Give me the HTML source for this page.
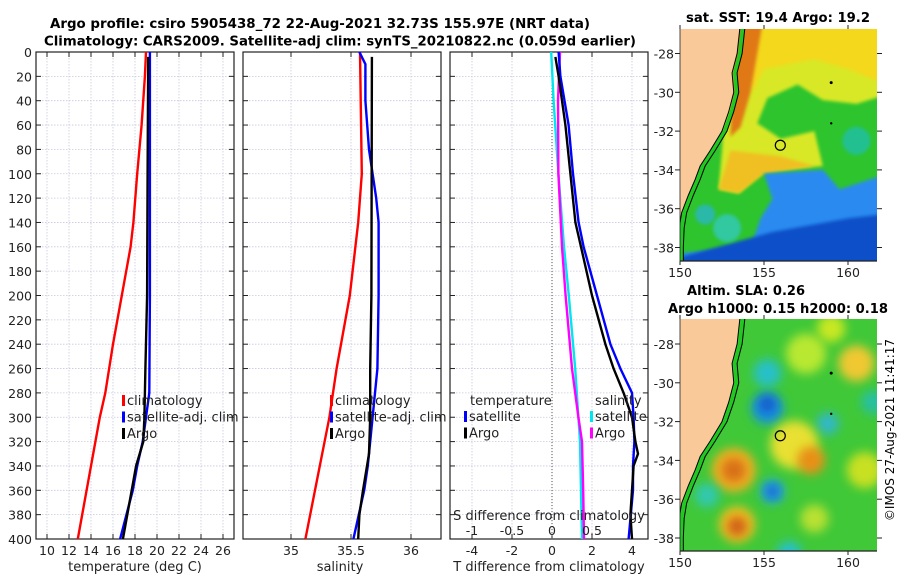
<!DOCTYPE html>
<html><head><meta charset="utf-8"><style>
body{margin:0;background:#fff;}
svg{display:block;font-family:"DejaVu Sans","Liberation Sans",sans-serif;}
</style></head><body>
<svg id="c" width="900" height="580" viewBox="0 0 900 580">
<defs>
<filter id="blur6" x="-50%" y="-50%" width="200%" height="200%"><feGaussianBlur stdDeviation="5"/></filter>
<filter id="blur3"><feGaussianBlur stdDeviation="1.5"/></filter>
<clipPath id="clipTop"><rect x="680" y="29" width="197" height="232"/></clipPath>
<clipPath id="clipBot"><rect x="680" y="319" width="197" height="232"/></clipPath>
</defs>
<text x="320" y="28" text-anchor="middle" font-size="13" font-weight="bold" textLength="540" lengthAdjust="spacingAndGlyphs">Argo profile: csiro 5905438_72 22-Aug-2021 32.73S 155.97E (NRT data)</text>
<text x="340" y="45.5" text-anchor="middle" font-size="13" font-weight="bold" textLength="592" lengthAdjust="spacingAndGlyphs">Climatology: CARS2009. Satellite-adj clim: synTS_20210822.nc (0.059d earlier)</text>
<text x="778" y="22" text-anchor="middle" font-size="13" font-weight="bold" textLength="184" lengthAdjust="spacingAndGlyphs">sat. SST: 19.4 Argo: 19.2</text>
<text x="746" y="295" text-anchor="middle" font-size="13" font-weight="bold" textLength="118" lengthAdjust="spacingAndGlyphs">Altim. SLA: 0.26</text>
<text x="778" y="313" text-anchor="middle" font-size="13" font-weight="bold" textLength="220" lengthAdjust="spacingAndGlyphs">Argo h1000: 0.15 h2000: 0.18</text>
<text transform="translate(894,430) rotate(-90)" text-anchor="middle" font-size="12">©IMOS 27-Aug-2021 11:41:17</text>
<g id="plots"></g>
<g id="maps"></g>
</svg>
<script>
// ---- data ----
const depthTicks=[0,20,40,60,80,100,120,140,160,180,200,220,240,260,280,300,320,340,360,380,400];
const tempTicks=[10,12,14,16,18,20,22,24,26];
const salTicks=[35,35.5,36];
const tdiffTicks=[-4,-2,0,2,4];
const sdiffTicks=[-1,-0.5,0,0.5];
const climTDepth=[0,20,60,100,140,160,200,240,280,300,320,360,400];
const climTVal=[19.0,18.9,18.6,18.2,17.85,17.6,16.8,16.0,15.3,14.8,14.4,13.6,12.8];
const satTDepth=[0,100,200,280,300,320,340,360,400];
const satTVal=[19.35,19.35,19.35,19.3,19.0,18.7,18.2,17.8,16.65];
const argoTDepth=[4,100,200,260,300,320,340,360,380,400];
const argoTVal=[19.2,19.15,19.1,18.95,18.85,18.75,18.1,17.7,17.3,16.9];
const climSDepth=[0,100,140,200,260,300,340,400];
const climSVal=[35.575,35.59,35.56,35.49,35.38,35.32,35.24,35.12];
const satSDepth=[0,10,40,80,100,120,140,200,260,300,340,360,400];
const satSVal=[35.57,35.62,35.62,35.65,35.68,35.71,35.73,35.73,35.72,35.68,35.64,35.61,35.52];
const argoSDepth=[4,200,260,300,330,360,380,400];
const argoSVal=[35.674,35.67,35.66,35.66,35.65,35.6,35.57,35.56];
const dTSatDepth=[0,20,60,100,140,160,200,240,260,280,300,320,340,360,400];
const dTSatVal=[0.33,0.42,0.83,1.05,1.33,1.58,2.25,2.92,3.42,4.0,4.08,4.12,4.05,4.05,3.83];
const dTArgoDepth=[4,20,60,100,140,160,200,240,260,280,300,320,330,340,360,380,400];
const dTArgoVal=[0.17,0.33,0.67,0.92,1.17,1.45,2.0,2.67,3.08,3.58,4.0,4.17,4.3,4.08,4.0,3.92,4.0];
const dSSatDepth=[0,40,100,160,200,260,300,320,400];
const dSSatVal=[-0.01,0.02,0.08,0.15,0.21,0.29,0.33,0.35,0.375];
const dSArgoDepth=[0,40,100,160,200,260,300,320,360,400];
const dSArgoVal=[0.1,0.075,0.08,0.125,0.17,0.25,0.33,0.375,0.39,0.4];
const latTicks=[-28,-30,-32,-34,-36,-38];
const lonTicks=[150,155,160];

const NS="http://www.w3.org/2000/svg";
const root=document.getElementById('plots');
function el(tag,attrs,parent,text){const e=document.createElementNS(NS,tag);for(const k in attrs)e.setAttribute(k,attrs[k]);if(text!==undefined)e.textContent=text;(parent||root).appendChild(e);return e;}
const Y0=52,Y1=539;
const yD=d=>Y0+d*(Y1-Y0)/400;

function panel(name,x0,x1,xmin,xmax,gridTicks,showDepthLabels){
  const xs=v=>x0+(v-xmin)*(x1-x0)/(xmax-xmin);
  const g=el('g',{});
  
  
  depthTicks.forEach(d=>{
    const l=el('line',{x1:x0,x2:x1,y1:yD(d),y2:yD(d),stroke:'#c8c8e0','stroke-width':0.8,'stroke-dasharray':'1.5,1.5'},g);
    
    
    el('line',{x1:x0,x2:x0+5,y1:yD(d),y2:yD(d),stroke:'#222'},g);
    el('line',{x1:x1-5,x2:x1,y1:yD(d),y2:yD(d),stroke:'#222'},g);
    if(showDepthLabels){
      const t=el('text',{x:x0-4,y:yD(d)+5,'text-anchor':'end','font-size':12.5,fill:'#222'},g,String(d));
      
      
    }
  });
  gridTicks.forEach(v=>{
    const l=el('line',{x1:xs(v),x2:xs(v),y1:Y0,y2:Y1,stroke:'#c8c8e0','stroke-width':0.8,'stroke-dasharray':'1.5,1.5'},g);
    
    
    el('line',{x1:xs(v),x2:xs(v),y1:Y1,y2:Y1-5,stroke:'#222'},g);
    el('line',{x1:xs(v),x2:xs(v),y1:Y0,y2:Y0+5,stroke:'#222'},g);
    const t=el('text',{x:xs(v),y:555,'text-anchor':'middle','font-size':12.5,fill:'#222'},g,String(v));
    
    
  });
  const f=el('rect',{x:x0,y:Y0,width:x1-x0,height:Y1-Y0,fill:'none',stroke:'#222','stroke-width':1.2},g);
  
  
  return {g,xs};
}
function series(p,depths,vals,color,name,xs){
  const pts=depths.map((d,i)=>xs(vals[i]).toFixed(1)+','+yD(d).toFixed(1)).join(' ');
  const l=el('polyline',{points:pts,fill:'none',stroke:color,'stroke-width':2.4,'stroke-linejoin':'round'},p.g);
  
  
}
function legend(g,x,y,items){
  items.forEach((it,i)=>{
    el('rect',{x:x,y:y+i*16.5-10,width:3,height:11,fill:it[1]},g);
    const t=el('text',{x:x+5,y:y+i*16.5,'font-size':13,fill:'#222'},g,it[0]);
    
    
  });
}
// panel 1
const p1=panel('temperature-panel',36,234,9,27,tempTicks,true);
series(p1,climTDepth,climTVal,'#ff0000','temp-climatology-line',p1.xs);
series(p1,satTDepth,satTVal,'#0000ff','temp-satellite-line',p1.xs);
series(p1,argoTDepth,argoTVal,'#000','temp-argo-line',p1.xs);
legend(p1.g,122,405,[['climatology','#ff0000'],['satellite-adj. clim','#0000ff'],['Argo','#000']]);
el('text',{x:135,y:571,'text-anchor':'middle','font-size':13,fill:'#222',},p1.g,'temperature (deg C)');
// panel 2
const p2=panel('salinity-panel',243,441,34.6,36.25,salTicks,false);
series(p2,climSDepth,climSVal,'#ff0000','sal-climatology-line',p2.xs);
series(p2,satSDepth,satSVal,'#0000ff','sal-satellite-line',p2.xs);
series(p2,argoSDepth,argoSVal,'#000','sal-argo-line',p2.xs);
legend(p2.g,330,405,[['climatology','#ff0000'],['satellite-adj. clim','#0000ff'],['Argo','#000']]);
el('text',{x:340,y:571,'text-anchor':'middle','font-size':13,fill:'#222',},p2.g,'salinity');
// panel 3
const p3=panel('difference-panel',450,648,-5.1,4.8,tdiffTicks,false);
const xsS=v=>p3.xs(v*4);
el('line',{x1:p3.xs(0),x2:p3.xs(0),y1:Y0,y2:Y1,stroke:'#555','stroke-width':1,'stroke-dasharray':'1,2'},p3.g);
series(p3,dSSatDepth,dSSatVal,'#00e5ee','sdiff-satellite-line',xsS);
series(p3,dSArgoDepth,dSArgoVal,'#ff00ff','sdiff-argo-line',xsS);
series(p3,dTSatDepth,dTSatVal,'#0000ff','tdiff-satellite-line',p3.xs);
series(p3,dTArgoDepth,dTArgoVal,'#000','tdiff-argo-line',p3.xs);
el('text',{x:470,y:405,'font-size':13,fill:'#222'},p3.g,'temperature');
legend(p3.g,464,421,[['satellite','#0000ff'],['Argo','#000']]);
el('text',{x:595,y:405,'font-size':13,fill:'#222'},p3.g,'salinity');
legend(p3.g,590,421,[['satellite','#00e5ee'],['Argo','#ff00ff']]);
el('text',{x:549,y:520,'text-anchor':'middle','font-size':13,fill:'#222',},p3.g,'S difference from climatology');
sdiffTicks.forEach(v=>{
  const t=el('text',{x:xsS(v),y:535,'text-anchor':'middle','font-size':12.5,fill:'#222'},p3.g,String(v));
  
  
});
el('text',{x:549,y:571,'text-anchor':'middle','font-size':13,fill:'#222',},p3.g,'T difference from climatology');

// ---- maps ----
const M=document.getElementById('maps');
const lx=lon=>680+(lon-150)*16.8;
const coast=[[153.6,-26.4],[153.4,-28],[153.1,-29],[153.2,-30],[152.9,-31],[152.5,-32],[151.8,-33],[151.2,-33.8],[150.9,-34.5],[150.5,-35.3],[150.1,-36.2],[149.95,-37],[149.9,-38],[149.9,-39.5]];
function P(arr,ly){return arr.map(p=>lx(p[0]).toFixed(1)+','+ly(p[1]).toFixed(1)).join(' ');}
function drawMap(name,top,yT,bot,clip,sst){
  const ly=lat=>yT+(-28-lat)*19.4;
  const g=el('g',{'clip-path':'url(#'+clip+')'},M);
  
  
  if(sst){
    el('rect',{x:680,y:top,width:197,height:bot-top,fill:'#2ec42e'},g);
    el('polygon',{points:P([[153,-26],[162,-26],[162,-30.2],[160.5,-30.6],[158.5,-30.4],[157,-29.6],[155.2,-30.3],[154.6,-31.6],[156,-32.4],[158,-32],[158.5,-33.8],[155,-34.1],[153.5,-35.2],[152.3,-35],[152.5,-33]],ly),fill:'#d8e828',filter:'url(#blur3)'},g);
    el('polygon',{points:P([[153.8,-26],[162,-26],[162,-29.5],[160,-28.8],[158,-28.3],[155,-28.8],[154.3,-30]],ly),fill:'#f4d81c',filter:'url(#blur3)'},g);
    el('polygon',{points:P([[153.3,-26],[155,-26],[154.6,-28],[154.2,-30],[153.6,-31.8],[153,-32.3]],ly),fill:'#e07818',filter:'url(#blur3)'},g);
    el('polygon',{points:P([[153,-33],[156,-33.3],[158,-33.8],[155,-34.2],[153.5,-35.2],[152.3,-35]],ly),fill:'#f0c020',filter:'url(#blur3)'},g);
    el('polygon',{points:P([[155,-34.2],[158.5,-34],[159.5,-35],[162,-34.3],[162,-40],[150,-40],[150,-38.3],[154.2,-38],[154.8,-36.5],[155.5,-35.5]],ly),fill:'#2a8af0',filter:'url(#blur3)'},g);
    el('polygon',{points:P([[155.5,-37.2],[160,-36.5],[162,-36.3],[162,-40],[150,-40],[150,-38.5]],ly),fill:'#1050c8',filter:'url(#blur3)'},g);
    el('circle',{cx:lx(151.5),cy:ly(-36.3),r:10,fill:'#2ab8a8',filter:'url(#blur3)'},g);
    el('circle',{cx:lx(152.8),cy:ly(-37),r:14,fill:'#30c8a0',filter:'url(#blur3)'},g);
    el('circle',{cx:lx(160.5),cy:ly(-32.5),r:14,fill:'#20c090',filter:'url(#blur3)'},g);
  } else {
    el('rect',{x:680,y:top,width:197,height:bot-top,fill:'#40c838'},g);
    const blobs=[[157.5,-28.5,20,'#b8e830'],[160.5,-29,18,'#f0c830'],[159,-27.2,14,'#c8e820'],[155.2,-29.5,14,'#28c0c8'],[155.2,-31.3,16,'#1890e0'],[155.2,-31.1,8,'#1858c8'],[158.8,-32.1,11,'#30b8c8'],[156.8,-33.2,24,'#e8e030'],[153.2,-34.5,22,'#f0b020'],[153.2,-34.5,12,'#d87018'],[157.8,-34,14,'#e89018'],[155.5,-35.6,12,'#20a0e8'],[155.5,-35.6,6,'#1860c8'],[151.6,-35.8,12,'#30c8b0'],[153.4,-37.3,18,'#f0c020'],[153.4,-37.4,10,'#d06018'],[158,-37,14,'#b8e030'],[161,-34.5,18,'#c8e020'],[161.5,-31,12,'#28c0a0'],[156.5,-38.8,12,'#28c0d0']];
    blobs.forEach(b=>el('circle',{cx:lx(b[0]),cy:ly(b[1]),r:b[2],fill:b[3],filter:'url(#blur6)'},g));
  }
  const land=[[148,-26],...coast,[148,-39.5]];
  el('polygon',{points:P(land,ly),fill:'#f9c99a'},g);
  el('polyline',{points:coast.map(p=>(lx(p[0])+3)+','+ly(p[1])).join(' '),fill:'none',stroke:'#22c822','stroke-width':4},g);
  el('polyline',{points:coast.map(p=>(lx(p[0])+5)+','+ly(p[1])).join(' '),fill:'none',stroke:'#000','stroke-width':1},g);
  el('polyline',{points:coast.map(p=>lx(p[0])+','+ly(p[1])).join(' '),fill:'none',stroke:'#000','stroke-width':1},g);
  el('circle',{cx:lx(159),cy:ly(-29.5),r:1.5,fill:'#000'},g);
  el('circle',{cx:lx(159),cy:ly(-31.6),r:1.2,fill:'#000'},g);
  const mk=el('circle',{cx:lx(155.97),cy:ly(-32.73),r:5,fill:'none',stroke:'#000','stroke-width':1.2},g);
  
  
  const fr=el('g',{},M);
  el('line',{x1:680,x2:877,y1:bot,y2:bot,stroke:'#222','stroke-width':1.2},fr);
  el('line',{x1:680,x2:680,y1:top,y2:bot,stroke:'#222','stroke-width':0.8},fr);
  latTicks.forEach(v=>{
    el('line',{x1:680,x2:675,y1:ly(v),y2:ly(v),stroke:'#222'},fr);
    el('line',{x1:877,x2:882,y1:ly(v),y2:ly(v),stroke:'#222'},fr);
    const t=el('text',{x:674,y:ly(v)+5,'text-anchor':'end','font-size':12.5,fill:'#222'},fr,String(v));
    
    
  });
  lonTicks.forEach(v=>{
    el('line',{x1:lx(v),x2:lx(v),y1:bot,y2:bot+4,stroke:'#222'},fr);
    el('line',{x1:lx(v),x2:lx(v),y1:top,y2:top-4,stroke:'#222'},fr);
    const t=el('text',{x:lx(v),y:bot+16,'text-anchor':'middle','font-size':12.5,fill:'#222'},fr,String(v));
    
    
  });
}
drawMap('sst-map',29,53.5,261,'clipTop',true);
drawMap('sla-map',319,344,551,'clipBot',false);
</script>
</body></html>
